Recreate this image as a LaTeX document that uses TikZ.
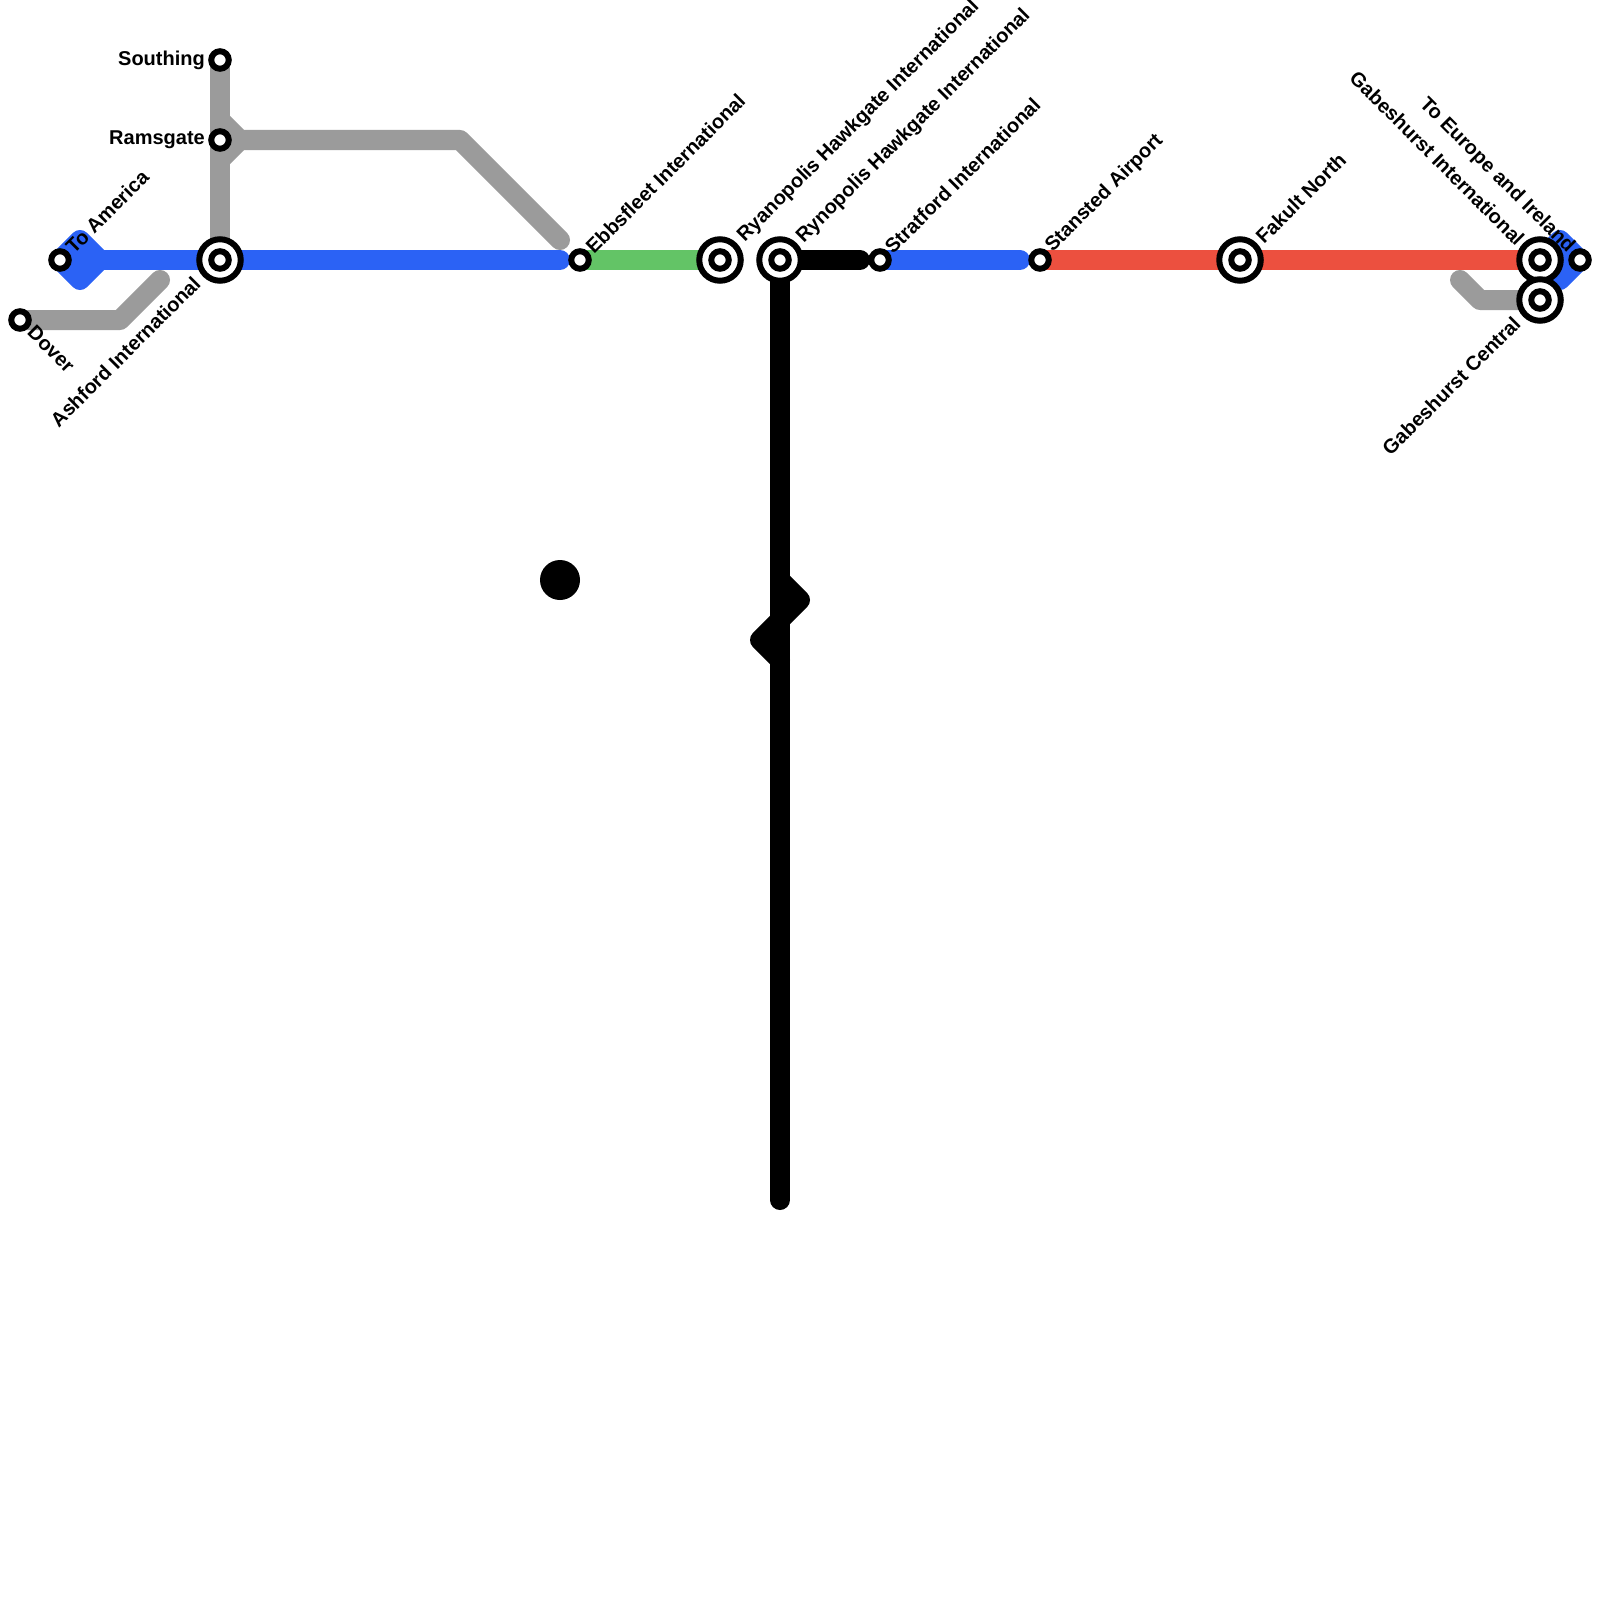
\documentclass[tikz,border=0pt]{standalone}
\usepackage{fontspec}
\setmainfont{Liberation Sans}
\definecolor{lblue}{HTML}{2B62F5}
\definecolor{lgrey}{HTML}{9B9B9B}
\definecolor{lgreen}{HTML}{63C466}
\definecolor{lred}{HTML}{EC503F}
\tikzset{
  route/.style={line width=20pt,line cap=round,line join=round},
  halt/.style={circle,draw=black,fill=white,line width=6pt,minimum size=17.5pt,inner sep=0pt,outer sep=0pt},
  hub/.style={circle,draw=black,fill=white,line width=6pt,minimum size=41.5pt,inner sep=0pt,outer sep=0pt},
  tag/.style={font=\bfseries\fontsize{20}{20}\selectfont,inner sep=0pt,text=black},
}
\begin{document}
\begin{tikzpicture}[x=1pt,y=-1pt]
\useasboundingbox (0,0) rectangle (1600,1600);
% station positions
\coordinate (southingP) at (220,60);
\coordinate (ramsgateP) at (220,140);
\coordinate (ashfordP) at (220,260);
\coordinate (americaP) at (60,260);
\coordinate (doverP) at (20,320);
\coordinate (ebbsfleetP) at (580,260);
\coordinate (ryanopolisP) at (720,260);
\coordinate (rynopolisP) at (780,260);
\coordinate (stratfordP) at (880,260);
\coordinate (stanstedP) at (1040,260);
\coordinate (fakultP) at (1240,260);
\coordinate (gabintP) at (1540,260);
\coordinate (gabcenP) at (1540,300);
\coordinate (europeP) at (1580,260);
% routes
\draw[route,lgrey] (southingP) -- (220,240);
\draw[route,lgrey] (220,120) -- (240,140) -- (460,140) -- (560,240);
\draw[route,lgrey] (220,160) -- (240,140);
\draw[route,lgrey] (doverP) -- (120,320) -- (160,280);
\draw[route,lgrey] (1460,280) -- (1480,300) -- (gabcenP);
\draw[route,lblue,fill=lblue] (americaP) -- (80,240) -- (100,260) -- (80,280) -- cycle;
\draw[route,lblue] (100,260) -- (560,260);
\draw[route,lgreen] (ebbsfleetP) -- (ryanopolisP);
\draw[route,black] (rynopolisP) -- (860,260);
\draw[route,black] (rynopolisP) -- (780,1200);
\draw[route,black] (780,580) -- (800,600) -- (780,620) -- (760,640) -- (780,660);
\draw[route,lblue] (stratfordP) -- (1020,260);
\draw[route,lred] (stanstedP) -- (gabintP);
\draw[route,lblue,fill=lblue] (gabintP) -- (1560,240) -- (europeP) -- (1560,280) -- cycle;
% lone dot
\node[circle,fill=black,minimum size=40pt,inner sep=0pt] (dot) at (560,580) {};
% stations
\node[halt] (southing) at (southingP) {};
\node[halt] (ramsgate) at (ramsgateP) {};
\node[hub] (ashford) at (ashfordP) {};
\node[halt] at (ashfordP) {};
\node[halt] (america) at (americaP) {};
\node[halt] (dover) at (doverP) {};
\node[halt] (ebbsfleet) at (ebbsfleetP) {};
\node[hub] (ryanopolis) at (ryanopolisP) {};
\node[halt] at (ryanopolisP) {};
\node[hub] (rynopolis) at (rynopolisP) {};
\node[halt] at (rynopolisP) {};
\node[halt] (stratford) at (stratfordP) {};
\node[halt] (stansted) at (stanstedP) {};
\node[hub] (fakult) at (fakultP) {};
\node[halt] at (fakultP) {};
\node[hub] (gabint) at (gabintP) {};
\node[halt] at (gabintP) {};
\node[hub] (gabcen) at (gabcenP) {};
\node[halt] at (gabcenP) {};
\node[halt] (europe) at (europeP) {};
% labels
\node[tag,anchor=east] (tsouthing) at (205,60) {Southing};
\node[tag,anchor=east] (tramsgate) at (205,140) {Ramsgate};
\node[tag,anchor=east,rotate=45] (tashford) at (197,280) {Ashford International};
\node[tag,anchor=west,rotate=45] (tamerica) at (69,250) {To America};
\node[tag,anchor=west,rotate=-45] (tdover) at (31,329) {Dover};
\node[tag,anchor=west,rotate=45] (tebbsfleet) at (589,250) {Ebbsfleet International};
\node[tag,anchor=west,rotate=45] (tryanopolis) at (741,239) {Ryanopolis Hawkgate International};
\node[tag,anchor=west,rotate=45] (trynopolis) at (800,240) {Rynopolis Hawkgate International};
\node[tag,anchor=west,rotate=45] (tstratford) at (888,250) {Stratford International};
\node[tag,anchor=west,rotate=45] (tstansted) at (1049,249) {Stansted Airport};
\node[tag,anchor=west,rotate=45] (tfakult) at (1259,240) {Fakult North};
\node[tag,anchor=east,rotate=-45] (tgabint) at (1521,242) {Gabeshurst International};
\node[tag,anchor=east,rotate=45] (tgabcen) at (1517,320) {Gabeshurst Central};
\node[tag,anchor=east,rotate=-45] (teurope) at (1571,250) {To Europe and Ireland};
\end{tikzpicture}
\end{document}
